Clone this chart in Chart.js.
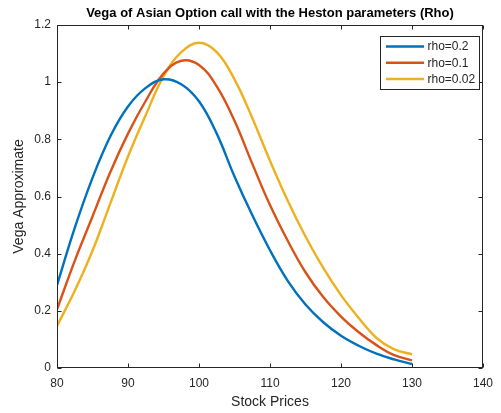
<!DOCTYPE html>
<html>
<head>
<meta charset="utf-8">
<script src="https://cdn.jsdelivr.net/npm/chart.js@4.4.1/dist/chart.umd.min.js"></script>
<style>
  html, body { margin: 0; padding: 0; background: #fff; }
</style>
</head>
<body>
<canvas id="vegaChart" width="501" height="413"></canvas>
<script>
// Vega of Asian option call, Heston parameters (rho)

const stockPrices = [80, 82.5, 85, 87.5, 90, 92.5, 95, 97.5, 100, 102.5, 105,
    107.5, 110, 112.5, 115, 117.5, 120, 122.5, 125, 127.5, 130];

const vegaRho02 = [0.29, 0.49, 0.665, 0.81, 0.915, 0.98, 1.01, 0.993, 0.933, 0.82, 0.67,
    0.535, 0.412, 0.305, 0.222, 0.16, 0.113, 0.078, 0.05, 0.03, 0.014];
const vegaRho01 = [0.205, 0.375, 0.53, 0.685, 0.82, 0.935, 1.03, 1.075, 1.06, 0.985, 0.865,
    0.715, 0.57, 0.445, 0.335, 0.248, 0.18, 0.125, 0.08, 0.045, 0.027];
const vegaRho002 = [0.147, 0.27, 0.41, 0.575, 0.74, 0.885, 1.02, 1.105, 1.138, 1.105, 1.01,
    0.875, 0.725, 0.585, 0.46, 0.35, 0.255, 0.175, 0.105, 0.065, 0.048];

const seriesLabels = ["rho=0.2", "rho=0.1", "rho=0.02"];
const xTicks = [80, 90, 100, 110, 120, 130, 140];
const yTicks = [0, 0.2, 0.4, 0.6, 0.8, 1, 1.2];

const titleText = "Vega of Asian Option call with the Heston parameters (Rho)";
const axisColor = "#262626";
const fontFamily = "'Liberation Sans', Arial, Helvetica, sans-serif";

function toPoints(ys) {
    return ys.map((y, i) => ({ x: stockPrices[i], y: y }));
}

// title, box with inward ticks and the legend, MATLAB style
const matlabFrame = {
    id: "matlabFrame",
    afterDraw(chart) {
        const ctx = chart.ctx;
        const a = chart.chartArea;
        const xs = chart.scales.x, ys = chart.scales.y;
        const L = Math.round(a.left) + 0.5, R = Math.round(a.right) - 0.5;
        const T = Math.round(a.top) + 0.5, B = Math.round(a.bottom) - 0.5;
        ctx.save();

        ctx.fillStyle = "#000";
        ctx.font = "bold 13px " + fontFamily;
        ctx.textAlign = "center";
        ctx.textBaseline = "middle";
        ctx.fillText(titleText, (a.left + a.right) / 2, 13);

        ctx.strokeStyle = axisColor;
        ctx.lineWidth = 1;
        ctx.strokeRect(L, T, R - L, B - T);
        ctx.beginPath();
        xTicks.forEach(v => {
            const px = Math.round(xs.getPixelForValue(v)) + 0.5;
            ctx.moveTo(px, B); ctx.lineTo(px, B - 4);
            ctx.moveTo(px, T); ctx.lineTo(px, T + 4);
        });
        yTicks.forEach(v => {
            const py = Math.round(ys.getPixelForValue(v)) + 0.5;
            ctx.moveTo(L, py); ctx.lineTo(L + 4, py);
            ctx.moveTo(R, py); ctx.lineTo(R - 4, py);
        });
        ctx.stroke();

        // legend
        const bx = 380.5, by = 36.5, bw = 99, bh = 53;
        ctx.fillStyle = "#fff";
        ctx.fillRect(bx, by, bw, bh);
        ctx.strokeStyle = axisColor;
        ctx.strokeRect(bx, by, bw, bh);
        ctx.font = "12px " + fontFamily;
        ctx.textAlign = "left";
        chart.data.datasets.forEach((ds, i) => {
            const cy = 46.5 + i * 16.3;
            ctx.strokeStyle = ds.borderColor;
            ctx.lineWidth = 2.5;
            ctx.beginPath();
            ctx.moveTo(386, cy); ctx.lineTo(424, cy);
            ctx.stroke();
            ctx.fillStyle = axisColor;
            ctx.fillText(ds.label, 427.5, cy + 0.5);
        });
        ctx.restore();
    },
};

new Chart(document.getElementById("vegaChart"), {
    type: "line",
    data: {
        datasets: [
            {
                label: seriesLabels[0],
                data: toPoints(vegaRho02),
                borderColor: "#0072BD",
            },
            {
                label: seriesLabels[1],
                data: toPoints(vegaRho01),
                borderColor: "#D95319",
            },
            {
                label: seriesLabels[2],
                data: toPoints(vegaRho002),
                borderColor: "#EDB120",
            },
        ],
    },
    options: {
        responsive: false,
        animation: false,
        devicePixelRatio: 1,
        layout: { padding: { top: 25, right: 10, left: 0, bottom: 0 } },
        elements: {
            point: { radius: 0 },
            line: { borderWidth: 2.4, tension: 0.4, fill: false },
        },
        plugins: {
            legend: { display: false },
            title: { display: false },
            tooltip: { enabled: false },
        },
        scales: {
            x: {
                type: "linear",
                min: 80,
                max: 140,
                grid: { display: false, drawTicks: false },
                border: { display: false },
                afterBuildTicks: s => { s.ticks = xTicks.map(v => ({ value: v })); },
                afterFit: s => { s.height = 45; },
                ticks: {
                    padding: 8,
                    color: axisColor,
                    font: { family: fontFamily, size: 12 },
                    maxRotation: 0,
                },
                title: {
                    display: true,
                    text: "Stock Prices",
                    color: axisColor,
                    font: { family: fontFamily, size: 14 },
                    padding: { top: 0, bottom: 2 },
                },
            },
            y: {
                min: 0,
                max: 1.2,
                grid: { display: false, drawTicks: false },
                border: { display: false },
                afterBuildTicks: s => { s.ticks = yTicks.map(v => ({ value: v })); },
                afterFit: s => { s.width = 57; },
                ticks: {
                    padding: 6,
                    color: axisColor,
                    font: { family: fontFamily, size: 12 },
                    callback: v => String(v),
                },
                title: {
                    display: true,
                    text: "Vega Approximate",
                    color: axisColor,
                    font: { family: fontFamily, size: 14 },
                    padding: { top: 11, bottom: 0 },
                },
            },
        },
    },
    plugins: [matlabFrame],
});
</script>
</body>
</html>
